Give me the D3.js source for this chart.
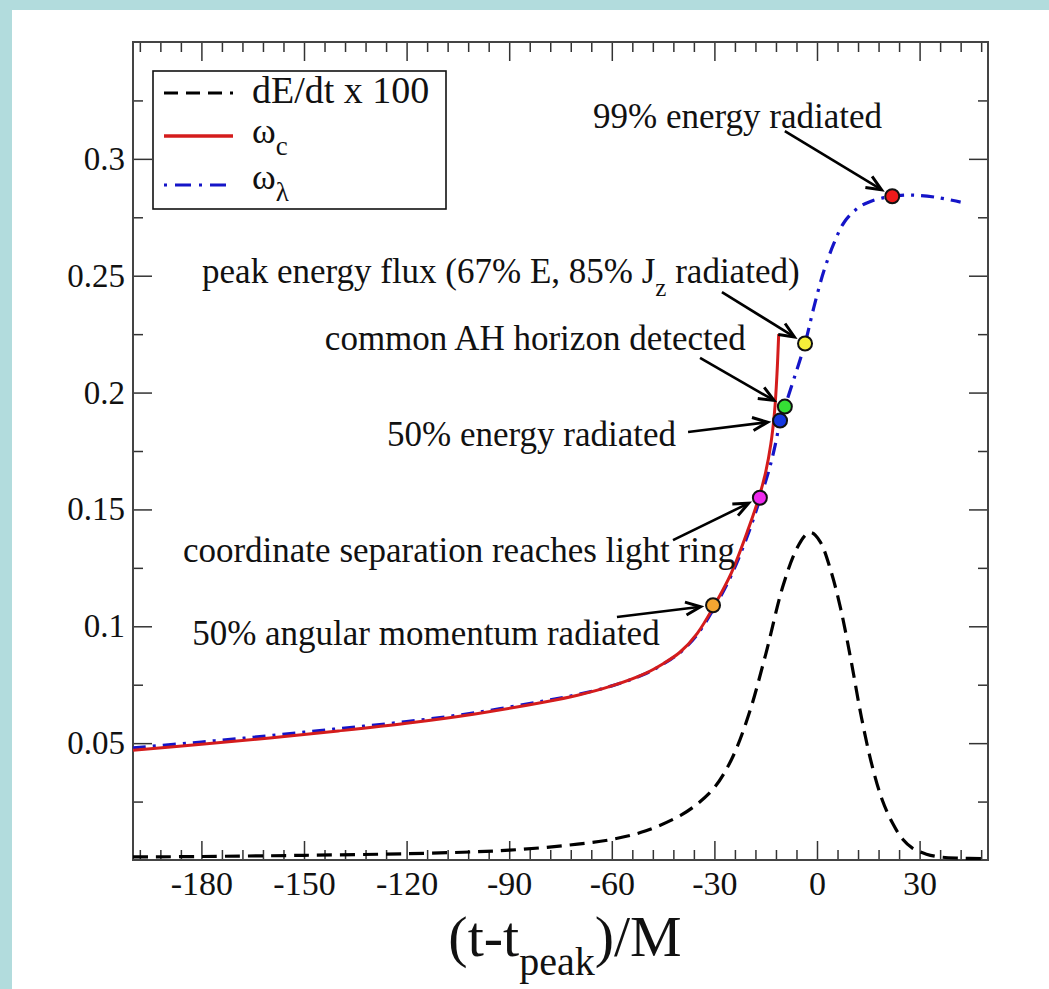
<!DOCTYPE html>
<html>
<head>
<meta charset="utf-8">
<script src="https://cdn.jsdelivr.net/npm/d3@7"></script>
<style>
  html, body { margin: 0; padding: 0; background: #ffffff; }
  svg { display: block; }
</style>
</head>
<body>
<svg id="chart" width="1049" height="989" font-family="Liberation Serif"></svg>
<script>
// ---- data ----------------------------------------------------------------
// orbital frequency from the coordinate trajectories, omega_c
const tOmegaC = [-200, -180, -160, -140, -120, -100, -80, -70, -60, -50, -45, -40, -35, -30, -25, -20, -17, -15, -13.5, -12.4, -11.7, -11.2];
const omegaC  = [0.047, 0.0495, 0.0522, 0.0552, 0.0585, 0.0625, 0.0675, 0.0705, 0.0745, 0.080, 0.084, 0.089, 0.097, 0.109, 0.123, 0.142, 0.155, 0.166, 0.178, 0.192, 0.208, 0.225];

// frequency of the l=2, m=2 radiation mode, omega_lambda
const tOmegaL = [-200, -180, -160, -140, -120, -100, -80, -70, -60, -50, -45, -40, -35, -30, -25, -20, -17, -14, -12, -10.8, -9.4, -6.5, -3.5, -1, 2, 5, 8, 12, 16, 22, 28, 35, 42];
const omegaL  = [0.048, 0.0505, 0.0532, 0.0562, 0.0592, 0.063, 0.068, 0.0708, 0.0745, 0.0798, 0.0838, 0.0888, 0.0965, 0.108, 0.122, 0.140, 0.153, 0.167, 0.179, 0.188, 0.194, 0.207, 0.221, 0.236, 0.252, 0.264, 0.273, 0.279, 0.282, 0.284, 0.2845, 0.2835, 0.2815];

// radiated energy flux, scaled by 100
const tFlux    = [-200, -180, -150, -120, -100, -90, -80, -70, -60, -50, -40, -35, -30, -25, -20, -15, -10, -6, -3, -1.5, 1, 4, 7, 10, 13, 16, 19, 22, 25, 28, 32, 36, 42, 48];
const fluxX100 = [0.0013, 0.0015, 0.002, 0.0027, 0.0035, 0.0042, 0.0053, 0.0068, 0.0088, 0.0125, 0.019, 0.024, 0.031, 0.043, 0.062, 0.088, 0.117, 0.133, 0.1395, 0.140, 0.136, 0.124, 0.107, 0.085, 0.061, 0.041, 0.026, 0.016, 0.009, 0.005, 0.0025, 0.0013, 0.0008, 0.0006];

// marked events along the frequency curves
const eventNames  = ["50% angular momentum radiated", "coordinate separation reaches light ring", "50% energy radiated", "common AH horizon detected", "peak energy flux", "99% energy radiated"];
const eventT      = [-30.4, -16.7, -10.8, -9.4, -3.5, 22];
const eventOmega  = [0.109, 0.155, 0.188, 0.194, 0.221, 0.284];
const eventColors = ["#f4a531", "#ee2aee", "#1438e0", "#35e035", "#f6f03a", "#ee1a1a"];

// axis ticks
const xTicks = [-180, -150, -120, -90, -60, -30, 0, 30];
const yTicks = [0.05, 0.1, 0.15, 0.2, 0.25, 0.3];

// ---- layout --------------------------------------------------------------
const W = 1049, H = 989;
const FONT = "Liberation Serif";
const plot = { left: 133, right: 988, top: 42, bottom: 860 };
const svg = d3.select("#chart");

// page background with a tinted strip on the top and left
svg.append("rect").attr("width", W).attr("height", H).attr("fill", "#b2dcdd");
svg.append("rect").attr("x", 12).attr("y", 10).attr("width", W - 12).attr("height", H - 10).attr("fill", "#ffffff");

const x = d3.scaleLinear().domain([-200, 50]).range([plot.left, plot.right]);
const y = d3.scaleLinear().domain([0, 0.35]).range([plot.bottom, plot.top]);

svg.append("clipPath").attr("id", "plotclip")
  .append("rect").attr("x", plot.left).attr("y", plot.top)
  .attr("width", plot.right - plot.left).attr("height", plot.bottom - plot.top);

// ---- axes (ticks point inward on all four sides) --------------------------
const minorX = d3.range(-198, 50, 6).filter(v => !xTicks.includes(v));
const minorY = d3.range(0.025, 0.35, 0.05).map(v => +v.toFixed(3));

function styleAxis(size) {
  return g => {
    g.attr("font-family", FONT).attr("font-size", size);
    g.select(".domain").remove();
    g.selectAll(".tick line").attr("stroke", "#333").attr("stroke-width", 1.5);
    g.selectAll(".tick text").attr("fill", "#111");
  };
}

const MAJOR = 19, MINOR = 10;

svg.append("g").attr("transform", `translate(0,${plot.bottom})`)
  .call(d3.axisBottom(x).tickValues(xTicks).tickSize(-MAJOR).tickPadding(11).tickFormat(d => String(d)))
  .call(styleAxis(34));
svg.append("g").attr("transform", `translate(0,${plot.bottom})`)
  .call(d3.axisBottom(x).tickValues(minorX).tickSize(-MINOR).tickFormat(""))
  .call(styleAxis(34));
svg.append("g").attr("transform", `translate(0,${plot.top})`)
  .call(d3.axisTop(x).tickValues(xTicks).tickSize(-MAJOR).tickFormat(""))
  .call(styleAxis(34));
svg.append("g").attr("transform", `translate(0,${plot.top})`)
  .call(d3.axisTop(x).tickValues(minorX).tickSize(-MINOR).tickFormat(""))
  .call(styleAxis(34));

svg.append("g").attr("transform", `translate(${plot.left},0)`)
  .call(d3.axisLeft(y).tickValues(yTicks).tickSize(-MAJOR).tickPadding(8).tickFormat(d => String(d)))
  .call(styleAxis(33));
svg.append("g").attr("transform", `translate(${plot.left},0)`)
  .call(d3.axisLeft(y).tickValues(minorY).tickSize(-MINOR).tickFormat(""))
  .call(styleAxis(33));
svg.append("g").attr("transform", `translate(${plot.right},0)`)
  .call(d3.axisRight(y).tickValues(yTicks).tickSize(-MAJOR).tickFormat(""))
  .call(styleAxis(33));
svg.append("g").attr("transform", `translate(${plot.right},0)`)
  .call(d3.axisRight(y).tickValues(minorY).tickSize(-MINOR).tickFormat(""))
  .call(styleAxis(33));

// frame
svg.append("rect")
  .attr("x", plot.left).attr("y", plot.top)
  .attr("width", plot.right - plot.left).attr("height", plot.bottom - plot.top)
  .attr("fill", "none").attr("stroke", "#444").attr("stroke-width", 2);

// x-axis title: (t - t_peak)/M
const xTitle = svg.append("text")
  .attr("x", 565).attr("y", 956).attr("font-family", FONT)
  .attr("text-anchor", "middle").attr("font-size", 58).attr("fill", "#111");
xTitle.append("tspan").text("(t-t");
xTitle.append("tspan").attr("font-size", 40).attr("dy", 19).text("peak");
xTitle.append("tspan").attr("dy", -19).text(")/M");

// ---- curves -------------------------------------------------------------
const curves = svg.append("g").attr("clip-path", "url(#plotclip)");
const line = d3.line().x(d => x(d[0])).y(d => y(d[1])).curve(d3.curveCatmullRom.alpha(0.5));

curves.append("path")
  .datum(d3.zip(tFlux, fluxX100))
  .attr("d", line).attr("fill", "none")
  .attr("stroke", "#000").attr("stroke-width", 3.2).attr("stroke-dasharray", "15,8");

curves.append("path")
  .datum(d3.zip(tOmegaL, omegaL))
  .attr("d", line).attr("fill", "none")
  .attr("stroke", "#1515c8").attr("stroke-width", 3.2).attr("stroke-dasharray", "13,7,3,7");

curves.append("path")
  .datum(d3.zip(tOmegaC, omegaC))
  .attr("d", line).attr("fill", "none")
  .attr("stroke", "#d41c1c").attr("stroke-width", 3);

// ---- event annotations ---------------------------------------------------
// label anchor (left end of baseline) and arrow tail, in data units
const labelT     = [-182.7, -185.4, -125.7, -143.9, -179.8, -65.5];
const labelOmega = [0.092, 0.1275, 0.1771, 0.2182, 0.2469, 0.3132];
const tailT      = [-58.5, -42.1, -37.7, -34.2, -27.8, -9.4];
const tailOmega  = [0.104, 0.1369, 0.1831, 0.2148, 0.243, 0.3119];

const ann = svg.append("g").attr("font-family", FONT);
eventNames.forEach((name, i) => {
  const t = ann.append("text")
    .attr("x", x(labelT[i])).attr("y", y(labelOmega[i]))
    .attr("font-size", 35).attr("fill", "#111");
  if (name === "peak energy flux") {
    t.append("tspan").text("peak energy flux (67% E, 85% J");
    t.append("tspan").attr("font-size", 25).attr("dy", 13).text("z");
    t.append("tspan").attr("dy", -13).text(" radiated)");
  } else {
    t.text(name);
  }

  // arrow from tail toward the event marker
  const x0 = x(tailT[i]), y0 = y(tailOmega[i]);
  const mx = x(eventT[i]), my = y(eventOmega[i]);
  const dx = mx - x0, dy = my - y0, len = Math.hypot(dx, dy);
  const ux = dx / len, uy = dy / len;
  const gap = 12.5;
  const x1 = mx - ux * gap, y1 = my - uy * gap;
  ann.append("line")
    .attr("x1", x0).attr("y1", y0).attr("x2", x1 - ux * 2).attr("y2", y1 - uy * 2)
    .attr("stroke", "#000").attr("stroke-width", 2.6);
  const hl = 15, hw = 6.5;
  const bx = x1 - ux * hl, by = y1 - uy * hl;
  ann.append("path")
    .attr("d", `M${bx - uy * hw},${by + ux * hw}L${x1},${y1}L${bx + uy * hw},${by - ux * hw}`)
    .attr("fill", "none").attr("stroke", "#000").attr("stroke-width", 3)
    .attr("stroke-linejoin", "miter");
});

// event markers
svg.append("g").selectAll("circle")
  .data(d3.range(eventT.length))
  .join("circle")
  .attr("cx", i => x(eventT[i])).attr("cy", i => y(eventOmega[i]))
  .attr("r", 7).attr("fill", i => eventColors[i])
  .attr("stroke", "#111").attr("stroke-width", 2);

// ---- legend --------------------------------------------------------------
const lg = svg.append("g").attr("font-family", FONT);
lg.append("rect").attr("x", 153).attr("y", 71).attr("width", 293).attr("height", 138)
  .attr("fill", "#fff").attr("stroke", "#111").attr("stroke-width", 1.6);

const legendRows = [
  { y: 93,  stroke: "#000",    dash: "14,8",     w: 3.2 },
  { y: 136, stroke: "#d41c1c", dash: null,       w: 3.6 },
  { y: 185, stroke: "#1515c8", dash: "3,8,16,8", w: 3.2 }
];
legendRows.forEach(r => {
  lg.append("line").attr("x1", 164).attr("x2", 233).attr("y1", r.y).attr("y2", r.y)
    .attr("stroke", r.stroke).attr("stroke-width", r.w)
    .attr("stroke-dasharray", r.dash);
});
lg.append("text").attr("x", 252).attr("y", 103).attr("font-size", 38).attr("fill", "#111")
  .text("dE/dt x 100");
const l2 = lg.append("text").attr("x", 252).attr("y", 143).attr("font-size", 36).attr("fill", "#111");
l2.append("tspan").text("ω");
l2.append("tspan").attr("font-size", 27).attr("dy", 12).text("c");
const l3 = lg.append("text").attr("x", 252).attr("y", 189).attr("font-size", 36).attr("fill", "#111");
l3.append("tspan").text("ω");
l3.append("tspan").attr("font-size", 27).attr("dy", 12).text("λ");
</script>
</body>
</html>
